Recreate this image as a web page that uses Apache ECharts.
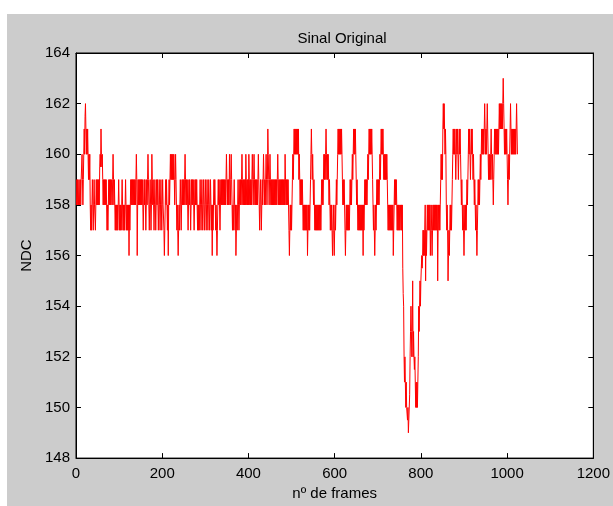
<!DOCTYPE html>
<html><head><meta charset="utf-8">
<script src="https://cdn.jsdelivr.net/npm/echarts@6/dist/echarts.min.js"></script>
<style>
html,body{margin:0;padding:0;background:#fff;}
#bg{position:absolute;left:7px;top:14px;width:606px;height:492px;background:#cccccc;}
#c{position:absolute;left:0;top:0;width:613px;height:506px;}
</style>
</head><body><div id="bg"></div><div id="c"></div>
<script>
// Tick values
const xTicks = [0, 200, 400, 600, 800, 1000, 1200];
const yTicks = [148, 150, 152, 154, 156, 158, 160, 162, 164];

// NDC values per frame, frames 1..256
const ndcA = [
158,159,158,159,159,158,159,158,158,159,158,159,159,160,159,158,
159,160,161,160,161.5,162,161,160,161,160,161,160,159,160,159,160,
158,157,158,157,158,159,158,157,158,159,158,158,157,158,159,158,
159,158,159,158,159,158,159.5,160,159.5,161,160,159.5,160,159,158,159,
158,159,158,159,158,159,158,157,158,157,158,159,158,159,158,159,
158,159,159,158,159,160,159,158,159,158,157,158,157,158,157,158,
157,158,159,158,157,158,157,158,157,158,159,158,157,158,157,158,
157,158,159,158,157,158,157,158,157,158,156,158,157,158,159,158,
159,158,159,158,159,158,159,158,159,158,159,160,159,156,158,159,
158,159,158,159,158,159,158,159,158,159,158,157,158,159,158,159,
158,157,158,159,158,159,160,159,158,157,158,159,158,157,158,160,
159,158,159,158,157,158,159,158,157,158,159,158,159,158,157,158,
159,158,157,158,159,158,157,158,159,158,158,157,156,157,158,159,
158,159,158,157,158,156,158,159,158,159,160,159,160,159,160,159,
160,159,160,159,158,159,160,159,158,157,158,157,156,157,158,157,
158,159,158,157,158,159,158,159,158,159,158,159,160,159,158,159
];
// frames 257..512
const ndcB = [
158,159,158,157,158,159,158,159,158,157,158,159,158,159,158,159,
158,157,158,159,158,159,158,159,158,157,158,157,158,157,158,159,
158,157,158,159,158,157,158,159,158,157,158,159,158,157,158,159,
158,157,158,159,158,157,158,159,158,157,158,156,158,157,158,159,
158,159,158,157,158,157,156,157,158,159,158,159,158,157,158,159,
158,159,158,159,158,159,158,159,158,159,158,159,160,159,158,159,
158,159,158,160,159,158,159,160,159,158,157,158,157,158,159,158,
157,158,156,157,158,157,158,159,158,157,158,159,158,159,158,159,
160,159,158,159,158,159,158,159,158,160,159,158,159,158,159,158,
160,159,158,159,158,159,158,159,160,159,158,159,160,159,158,159,
158,159,158,159,158,159,160,159,158,157,158,159,158,157,158,159,
158,159,160,159,158,159,158,159,160,159,158,159,161,160,159,158,
159,160,159,158,159,158,159,158,159,158,159,158,159,158,159,158,
159,158,159,160,159,158,159,158,159,158,159,158,159,158,159,158,
159,158,159,158,160,159,158,159,158,159,158,159,158,157,156,157,
158,157,158,157,158,159,160,159,160,161,160,161,160,161,160,161
];
// frames 513..773
const ndcC = [
160,161,160,161,159,160,159,158,159,158,159,158,159,158,157,158,
157,158,157,158,157,158,157,158,156,157,158,157,158,157,158,159,
160,161,160,159,160,159,158,159,158,157,158,157,158,157,158,157,
158,157,158,157,158,157,158,157,158,159,158,159,158,159,160,159,
160,159,160,161,160,159,160,159,160,159,158,159,158,157,158,157,
158,157,156,157,158,157,156,157,158,157,158,159,158,159,160,161,
160,161,160,161,160,161,160,161,160,159,158,159,158,159,158,157,
156,157,158,157,158,157,158,157,158,157,158,159,158,159,158,159,
160,159,160,161,160,161,160,161,160,159,158,159,158,157,158,157,
158,157,158,157,158,157,158,157,158,156,158,157,158,159,158,159,
158,159,158,159,160,159,160,161,160,161,160,161,160,161,160,159,
158,157,158,157,156,157,158,157,158,159,158,159,158,159,158,159,
160,159,160,161,160,161,160,161,160,159,160,159,160,159,160,159,
160,159,158,157,158,157,158,157,158,157,158,157,158,157,158,156,
157,158,159,158,159,158,159,158,157,158,157,158,157,158,157,157,158,157,158,157,158,
155.5,154.5,154,152,151,152,151,150,151,150,150,149.5,150,149,149,149
];
// frames 774..1024
const ndcD = [
150.5,152,153,154,153,152,153,155,152,153,152,151.5,152,151,150,151,
150,151,150,151,152,154,153,154,155,154,155,155.5,156,155.5,156,157,
156,157,156,157,158,155,157,156,157,158,157,158,157,158,157,158,
156,157,158,157,156,157,158,157,158,157,158,157,158,157,158,157,
158,155,157,158,157,158,157,158,159,160,159,160,159,161,162,161,
162,161,160,161,160,158,157,158,157,155,156,157,156,157,158,157,
158,157,158,159,160,161,160,161,160,161,160,159,160,161,160,161,
160,159,160,161,160,161,160,159,158,159,158,157,158,157,156,157,
158,157,158,157,158,159,158,159,160,161,160,161,160,159,160,161,
160,161,160,159,160,159,158,159,158,157,158,157,156,157,158,159,
158,159,158,159,160,159,160,161,160,161,160,161,160,161,162,161,
160,161,160,161,162,161,160,159,160,159,160,159,160,161,160,159,
160,159,158,159,160,161,160,161,160,161,160,161,160,161,160,161,
162,161,162,161,162,161,162,161,162,163,162,161,160,161,160,161,
160,161,160,159,158,159,160,159,160,161,162,161,160,161,160,161,
160,161,160,161,160,161,160,161,162,161,160
];

const ndc = ndcA.concat(ndcB, ndcC, ndcD);
const points = ndc.map((v, i) => [i + 1, v]);

const FONT = "'Liberation Sans', Arial, sans-serif";
const chart = echarts.init(document.getElementById('c'), null, {renderer: 'canvas'});

const baseX = {
  type: 'value', min: xTicks[0], max: xTicks[xTicks.length - 1], interval: 200,
  splitLine: {show: false},
  axisLine: {show: true, onZero: false, lineStyle: {color: '#000', width: 1}},
  axisTick: {show: true, inside: true, length: 5, lineStyle: {color: '#000'}}
};
const baseY = {
  type: 'value', min: yTicks[0], max: yTicks[yTicks.length - 1], interval: 2,
  splitLine: {show: false},
  axisLine: {show: true, onZero: false, lineStyle: {color: '#000', width: 1}},
  axisTick: {show: true, inside: true, length: 5, lineStyle: {color: '#000'}}
};

chart.setOption({
  animation: false,
  backgroundColor: 'transparent',
  textStyle: {fontFamily: FONT},
  title: {
    text: 'Sinal Original', left: 337, top: 26, textAlign: 'center',
    textStyle: {fontSize: 15, fontWeight: 'normal', color: '#000', fontFamily: FONT}
  },
  grid: {left: 76, top: 53, width: 522, height: 410, show: true,
         backgroundColor: '#ffffff', borderColor: '#000', borderWidth: 1},
  xAxis: [
    Object.assign({}, baseX, {
      position: 'bottom',
      name: 'nº de frames', nameLocation: 'middle', nameGap: 26,
      nameTextStyle: {fontSize: 15, color: '#000', fontFamily: FONT},
      axisLabel: {show: true, color: '#000', fontSize: 15, margin: 8, fontFamily: FONT,
                  formatter: v => String(v)}
    }),
    Object.assign({}, baseX, {position: 'top', axisLabel: {show: false}})
  ],
  yAxis: [
    Object.assign({}, baseY, {
      position: 'left',
      name: 'NDC', nameLocation: 'middle', nameGap: 42, nameRotate: 90,
      nameTextStyle: {fontSize: 15, color: '#000', fontFamily: FONT},
      axisLabel: {show: true, color: '#000', fontSize: 15, margin: 6, fontFamily: FONT,
                  formatter: v => String(v)}
    }),
    Object.assign({}, baseY, {position: 'right', axisLabel: {show: false}})
  ],
  series: [{
    type: 'line', xAxisIndex: 0, yAxisIndex: 0, data: points,
    showSymbol: false, symbol: 'none', sampling: null,
    lineStyle: {color: '#ff0000', width: 1}, itemStyle: {color: '#ff0000'},
    clip: true
  }]
});
</script>
</body></html>
